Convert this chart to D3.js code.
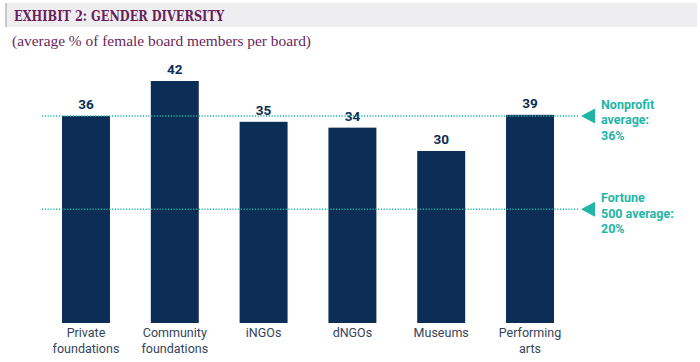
<!DOCTYPE html>
<html><head><meta charset="utf-8">
<script src="https://cdn.jsdelivr.net/npm/d3@7"></script>
<style>
body{margin:0;background:#fff;}
svg{display:block;}
</style></head>
<body>
<svg id="chart" width="700" height="362"></svg>
<script>
const categories = [["Private","foundations"],["Community","foundations"],["iNGOs"],["dNGOs"],["Museums"],["Performing","arts"]];
const values = [36, 42, 35, 34, 30, 36.2];
const valueLabels = ["36","42","35","34","30","39"];
const refValues = [36, 20];
const refLabels = [["Nonprofit","average:","36%"],["Fortune","500 average:","20%"]];
const titleText = "EXHIBIT 2: GENDER DIVERSITY";
const subtitleText = "(average % of female board members per board)";

const svg = d3.select("#chart");
const navy = "#0c2d55", teal = "#1fb5a6", purple = "#6a1f5c";

// title bar
svg.append("rect").attr("x",5).attr("y",3).attr("width",692).attr("height",24).attr("fill","#eeeef0");
svg.append("rect").attr("x",5).attr("y",3).attr("width",2).attr("height",24).attr("fill","#c9c9cf");
svg.append("text").attr("x",14).attr("y",21).text(titleText)
  .attr("font-family","'DejaVu Serif', serif").attr("font-weight","bold").attr("font-size",14.5)
  .attr("fill",purple).attr("textLength",210).attr("lengthAdjust","spacingAndGlyphs");
svg.append("text").attr("x",12).attr("y",46).text(subtitleText)
  .attr("font-family","'Liberation Serif', serif").attr("font-size",15.5)
  .attr("fill",purple).attr("textLength",299).attr("lengthAdjust","spacingAndGlyphs");

const x = d3.scaleBand().domain(d3.range(values.length)).range([62, 554]).paddingInner(0.46).paddingOuter(0);
const y = d3.scaleLinear().domain([0.5, 42]).range([323, 81]);

svg.selectAll("rect.bar").data(values).join("rect").attr("class","bar")
  .attr("x",(d,i)=>x(i)).attr("width",x.bandwidth())
  .attr("y",d=>y(d)).attr("height",d=>y(0.5)-y(d)).attr("fill",navy);

svg.selectAll("text.val").data(values).join("text").attr("class","val")
  .attr("x",(d,i)=>x(i)+x.bandwidth()/2).attr("y",d=>y(d)-7)
  .attr("text-anchor","middle").attr("font-family","Roboto, sans-serif").attr("font-weight","bold")
  .attr("font-size",13.5).attr("fill",navy).text((d,i)=>valueLabels[i]);

// category labels
const cat = svg.selectAll("text.cat").data(categories).join("text").attr("class","cat")
  .attr("x",(d,i)=>x(i)+x.bandwidth()/2).attr("y",337)
  .attr("text-anchor","middle").attr("font-family","Roboto, sans-serif").attr("font-size",12.5)
  .attr("fill","#34445a");
cat.each(function(d){
  const t=d3.select(this);
  d.forEach((line,j)=>t.append("tspan").attr("x",t.attr("x")).attr("dy",j===0?0:16).text(line));
});

// reference lines
svg.selectAll("line.ref").data(refValues).join("line").attr("class","ref")
  .attr("x1",42).attr("x2",578).attr("y1",d=>y(d)).attr("y2",d=>y(d))
  .attr("stroke",teal).attr("stroke-width",1.5).attr("stroke-dasharray","1.2,1.6");

svg.selectAll("path.tri").data(refValues).join("path").attr("class","tri")
  .attr("d",d=>`M581,${y(d)} L595,${y(d)-7.5} L595,${y(d)+7.5} Z`).attr("fill",teal);

const rl = svg.selectAll("text.refl").data(refLabels).join("text").attr("class","refl")
  .attr("x",601).attr("y",(d,i)=>y(refValues[i])-7)
  .attr("font-family","Roboto, sans-serif").attr("font-weight","bold").attr("font-size",12.5).attr("fill",teal);
rl.each(function(d){
  const t=d3.select(this);
  d.forEach((line,j)=>t.append("tspan").attr("x",601).attr("dy",j===0?0:15.5).text(line));
});
</script>
</body></html>
